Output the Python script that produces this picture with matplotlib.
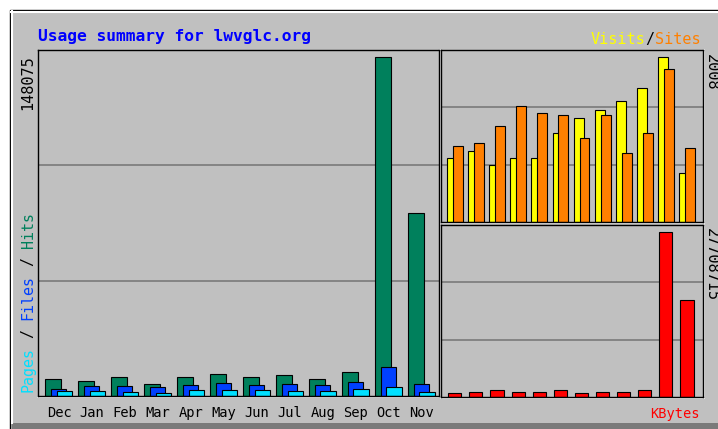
"""
Webalizer style usage summary for lwvglc.org
"""

import numpy as np
import matplotlib
matplotlib.use('Agg')
import matplotlib.pyplot as plt
from matplotlib.patches import Rectangle

# 数据
months = ['Dec', 'Jan', 'Feb', 'Mar', 'Apr', 'May', 'Jun', 'Jul', 'Aug', 'Sep', 'Oct', 'Nov']
hits = [7470, 6750, 8200, 5400, 8400, 9800, 8400, 9260, 7500, 10450, 148075, 80100]
files = [3080, 4400, 4400, 3950, 4830, 5700, 4830, 5270, 4830, 6000, 12570, 5270]
pages = [2200, 2200, 1760, 1450, 2640, 2640, 2640, 2200, 2200, 3080, 3780, 1900]
visits = [781, 864, 700, 781, 781, 1086, 1267, 1370, 1472, 1633, 2008, 592]
sites = [922, 963, 1168, 1411, 1333, 1308, 1024, 1308, 839, 1086, 1860, 901]
kbytes = [632000, 905000, 1250000, 905000, 905000, 1250000, 632000, 905000, 905000,
          1250000, 27708715, 16170000]

W, H = 718, 429
MONO = 'DejaVu Sans Mono'
GREY = '#C0C0C0'
GRID = '#7F7F7F'


def box(x0, y0, x1, y1):
    # pixel box -> figure fraction
    return [x0 / W, 1 - y1 / H, (x1 - x0) / W, (y1 - y0) / H]


def panel(fig, px, ymax, xlim):
    x0, y0, x1, y1 = px
    ax = fig.add_axes(box(x0, y0, x1, y1))
    ax.set_facecolor(GREY)
    ax.set_xlim(*xlim)
    ax.set_ylim(0, ymax)
    ax.set_yticks([ymax / 3, 2 * ymax / 3])
    ax.grid(axis='y', color=GRID, linewidth=1.3)
    ax.set_axisbelow(True)
    ax.tick_params(left=False, labelleft=False, bottom=False, labelbottom=False)
    for s in ax.spines.values():
        s.set_color('black')
        s.set_linewidth(1.0)
    # 立体边框: 白色的下边和右边
    bg.plot([x0, x1 + 1.2], [y1 + 1.2, y1 + 1.2], color='white', linewidth=1.2)
    bg.plot([x1 + 1.2, x1 + 1.2], [y0, y1 + 1.2], color='white', linewidth=1.2)
    return ax


fig = plt.figure(figsize=(W / 100, H / 100), dpi=100, facecolor='white')

# 背景和边框
bg = fig.add_axes([0, 0, 1, 1])
bg.set_xlim(0, W)
bg.set_ylim(H, 0)
bg.axis('off')
bg.add_patch(Rectangle((10, 9.5), W, H, facecolor=GREY, edgecolor='black', linewidth=1))
bg.plot([11, W], [11.5, 11.5], color='white', linewidth=1.5)
bg.plot([11.5, 11.5], [11, 423], color='white', linewidth=1.5)
bg.add_patch(Rectangle((12, 423), W, 10, facecolor='#7A7A7A', edgecolor='none'))

x = np.arange(len(months))

# 主图: hits / files / pages
ax1 = panel(fig, (38, 50, 439, 396), max(hits) * 1.022, (-0.221, 11.946))
ax1.bar(x, hits, width=0.48, align='edge', color='#00805C', edgecolor='black', linewidth=0.8)
ax1.bar(x + 0.18, files, width=0.45, align='edge', color='#0040FF', edgecolor='black', linewidth=0.8)
ax1.bar(x + 0.35, pages, width=0.47, align='edge', color='#00E0FF', edgecolor='black', linewidth=0.8)
ax1.set_xticks(x + 0.42)
ax1.set_xticklabels(months, fontfamily=MONO, fontsize=9.9)
ax1.tick_params(bottom=False, labelbottom=True, length=0, pad=7)

# 右上: visits / sites
ax2 = panel(fig, (441, 50, 703, 222), max(visits) * 1.044, (-0.283, 12.127))
ax2.bar(x, visits, width=0.47, align='edge', color='#FFFF00', edgecolor='black', linewidth=0.8)
ax2.bar(x + 0.28, sites, width=0.47, align='edge', color='#FF8000', edgecolor='black', linewidth=0.8)

# 右下: kbytes
ax3 = panel(fig, (441, 225, 703, 397), max(kbytes) * 1.04, (-0.283, 12.127))
ax3.bar(x + 0.06, kbytes, width=0.62, align='edge', color='#FF0000', edgecolor='black', linewidth=0.8)

# 文字
bg.text(38, 41, 'Usage summary for lwvglc.org', color='#0000FF', fontsize=11.7,
        fontweight='bold', family=MONO, va='baseline')

cw = 9.1
bg.text(591, 44, 'Visits', color='#FFFF00', fontsize=10.9, family=MONO, va='baseline')
bg.text(591 + 6 * cw, 44, '/', color='black', fontsize=10.9, family=MONO, va='baseline')
bg.text(591 + 7 * cw, 44, 'Sites', color='#FF8000', fontsize=10.9, family=MONO, va='baseline')

cw = 9.0
for txt, idx, col in [('Pages', 0, '#00E0FF'), ('/', 6, 'black'), ('Files', 8, '#0040FF'),
                      ('/', 14, 'black'), ('Hits', 16, '#00805C')]:
    bg.text(28, 392 - idx * cw, txt, color=col, fontsize=10.8, family=MONO,
            rotation=90, ha='center', va='bottom')

bg.text(28, 55, str(max(hits)), color='black', fontsize=11, family=MONO,
        rotation=90, ha='center', va='top')
bg.text(711, 54, str(max(visits)), color='black', fontsize=11, family=MONO,
        rotation=270, ha='center', va='top')
bg.text(711, 228, str(max(kbytes)), color='black', fontsize=11, family=MONO,
        rotation=270, ha='center', va='top')
bg.text(700, 418, 'KBytes', color='#FF0000', fontsize=9.8, family=MONO,
        ha='right', va='baseline')

fig.savefig('out.png', dpi=100, facecolor='white')
